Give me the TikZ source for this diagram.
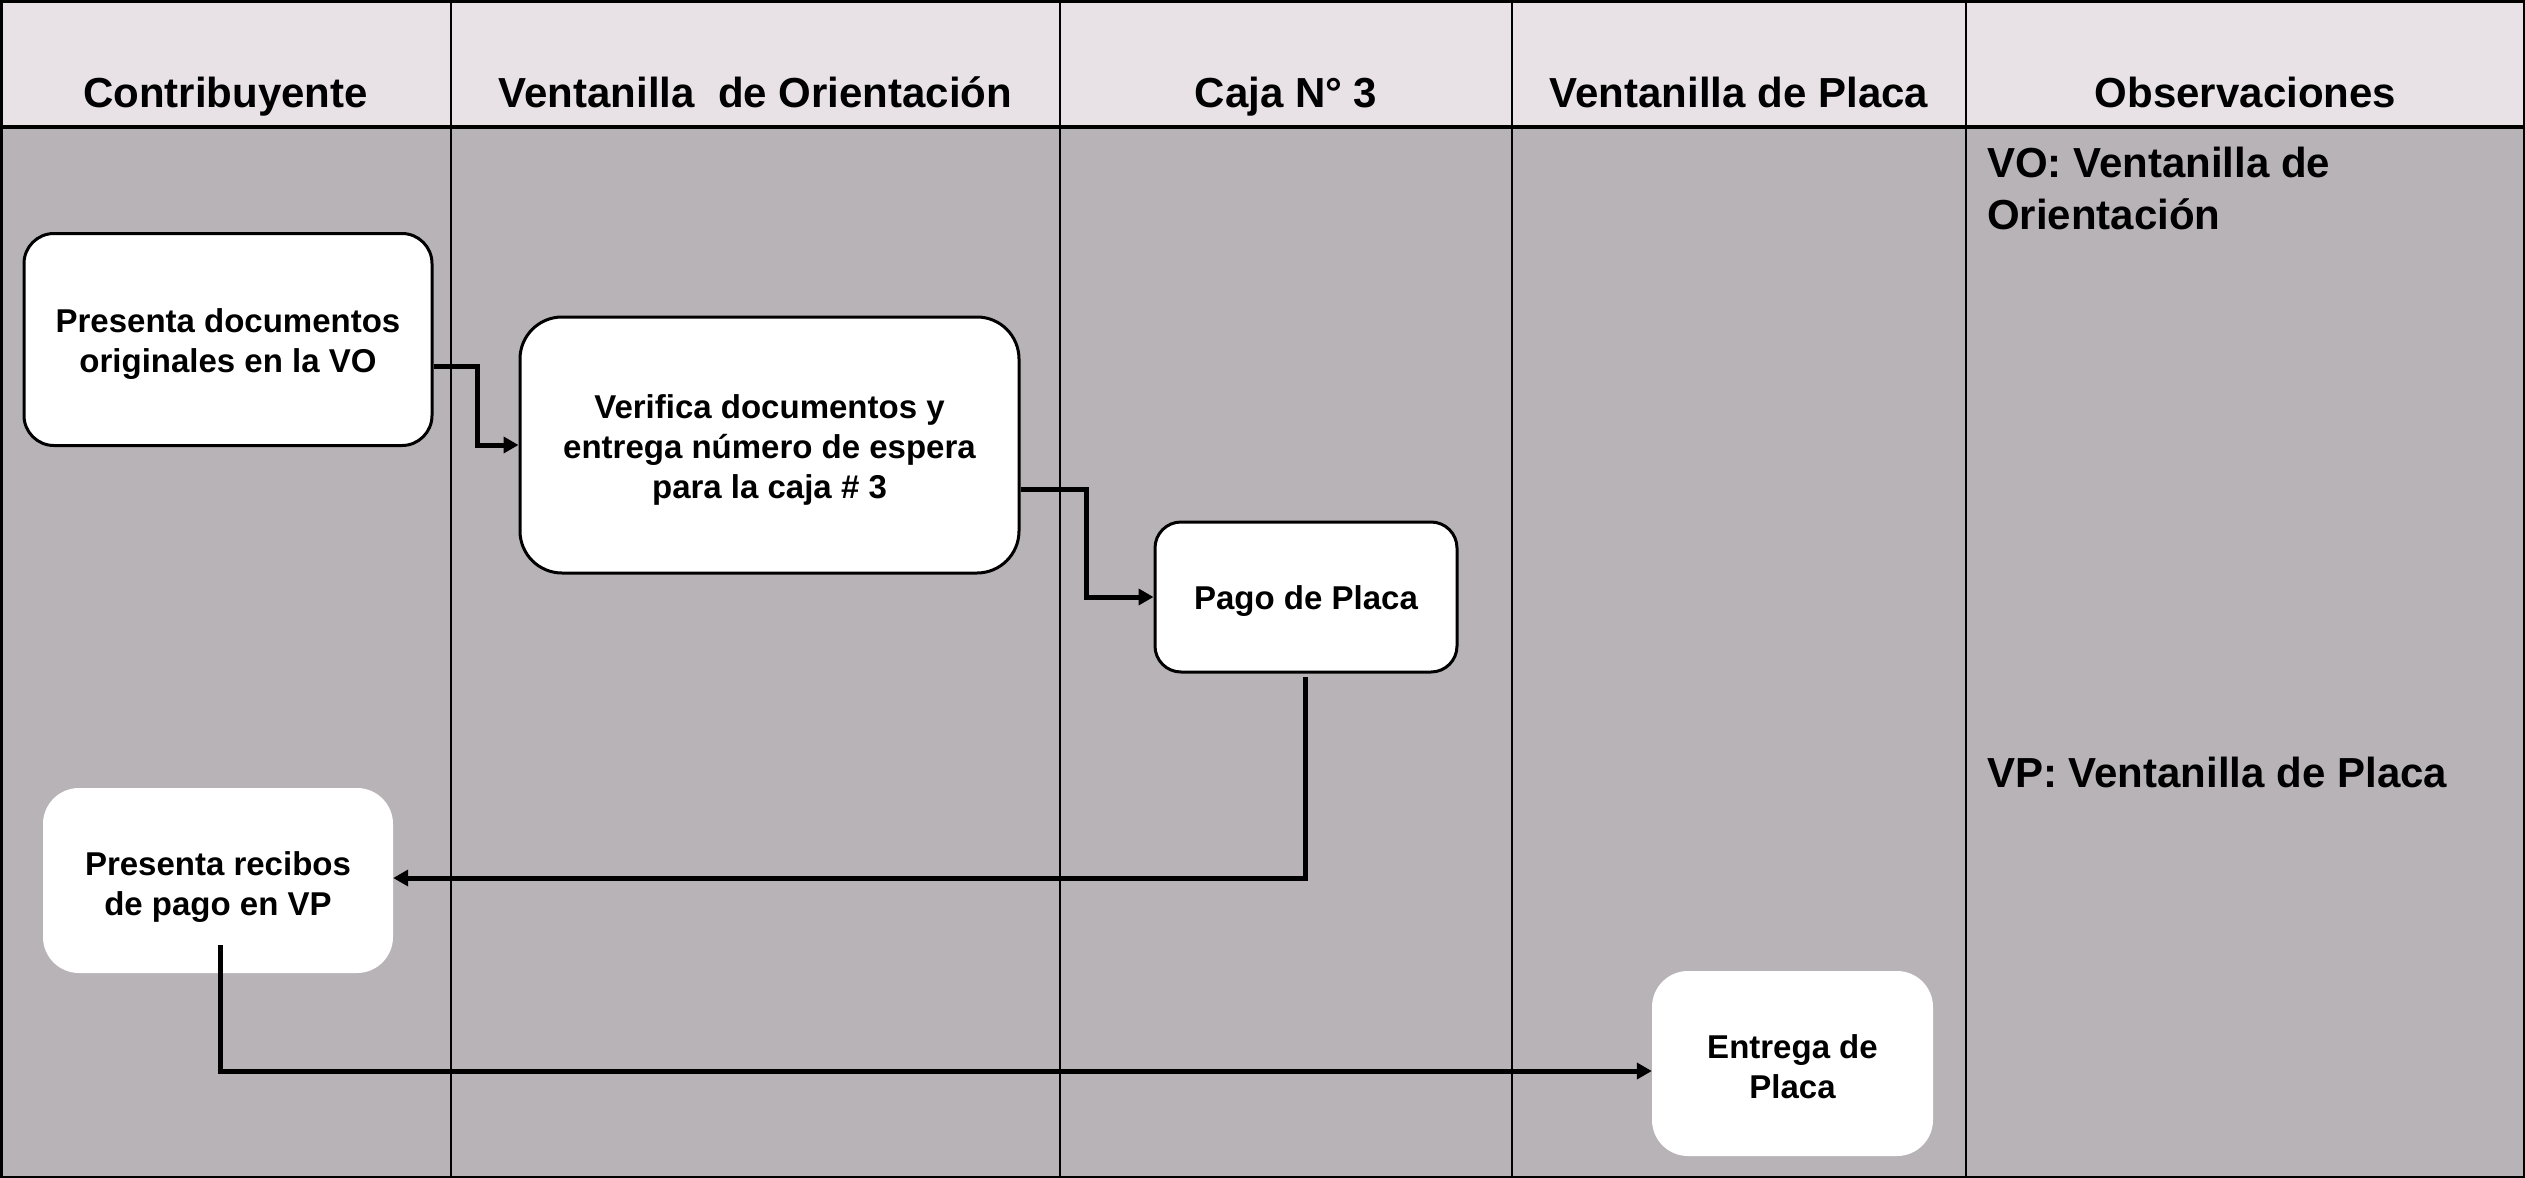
\documentclass[tikz,border=0pt]{standalone}
\usepackage{fontspec}
\setmainfont{Liberation Sans}
\usetikzlibrary{arrows.meta}
\definecolor{headfill}{RGB}{232,226,230}
\definecolor{bodyfill}{RGB}{184,179,183}
\tikzset{
  lane/.style={line width=2pt, black},
  headtext/.style={anchor=base, font=\fontsize{42}{50}\selectfont\bfseries},
  obstext/.style={anchor=base west, font=\fontsize{42}{51.5}\selectfont\bfseries, align=left, inner sep=0pt},
  boxtext/.style={align=center, inner sep=0pt, font=\fontsize{33}{40}\selectfont\bfseries},
  stepbox/.style={draw=black, line width=3pt, fill=white},
  plainbox/.style={fill=white, rounded corners=36pt},
  conn/.style={line width=5pt, -{Triangle[length=15pt,width=16pt]}},
}
\begin{document}
\begin{tikzpicture}[x=1pt,y=-1pt]
\useasboundingbox (0,0) rectangle (2525,1178);
% backgrounds
\fill[headfill] (0,0) rectangle (2525,127);
\fill[bodyfill] (0,127) rectangle (2525,1178);
% lane separators
\foreach \xx in {451,1060,1512,1966} \draw[lane] (\xx,0) -- (\xx,1178);
\draw[line width=4.5pt] (0,127) -- (2525,127);
\draw[line width=2.5pt] (1.25,1.25) rectangle (2523.75,1176.75);
% headers
\node[headtext] (h1) at (225.5,107) {Contribuyente};
\node[headtext] (h2) at (755.5,107) {Ventanilla\ \ de Orientación};
\node[headtext] (h3) at (1286,107) {Caja N° 3};
\node[headtext] (h4) at (1739,107) {Ventanilla de Placa};
\node[headtext] (h5) at (2245.5,107) {Observaciones};
% observations
\node[obstext] (o1) at (1987,229) {VO: Ventanilla de\\Orientación};
\node[obstext] (o2) at (1987,787) {VP: Ventanilla de Placa};
% process boxes
\node[stepbox, rounded corners=30pt, minimum width=408pt, minimum height=212pt,
  label={[boxtext, yshift=-5pt]center:Presenta documentos\\originales en la VO}] (b1) at (228,339.5) {};
\node[stepbox, rounded corners=42pt, minimum width=499pt, minimum height=256pt,
  label={[boxtext, yshift=-5pt]center:Verifica documentos y\\entrega número de espera\\para la caja \# 3}] (b2) at (769.5,445) {};
\node[stepbox, rounded corners=26pt, minimum width=302pt, minimum height=150pt,
  label={[boxtext, yshift=-4pt]center:Pago de Placa}] (b3) at (1306,597) {};
\node[plainbox, minimum width=350pt, minimum height=185pt,
  label={[boxtext, yshift=-7pt]center:Presenta recibos\\de pago en VP}] (b4) at (218,880.5) {};
\node[plainbox, minimum width=281pt, minimum height=185pt,
  label={[boxtext, yshift=-3pt]center:Entrega de\\Placa}] (b5) at (1792.5,1063.5) {};
% connectors
\coordinate (a1) at (477,366);
\draw[conn] (b1.east |- a1) -- (a1) |- (b2.west);
\coordinate (c1) at (1086,489);
\draw[conn] (b2.east |- c1) -- (c1) |- (b3.west);
\coordinate (d0) at (1305,677);
\coordinate (d1) at (0,878);
\draw[conn] (d0) -- (d0 |- d1) -- (b4.east |- d1);
\coordinate (e0) at (220,945);
\coordinate (e1) at (0,1071);
\draw[conn] (e0) -- (e0 |- e1) -- (b5.west |- e1);
\end{tikzpicture}
\end{document}
